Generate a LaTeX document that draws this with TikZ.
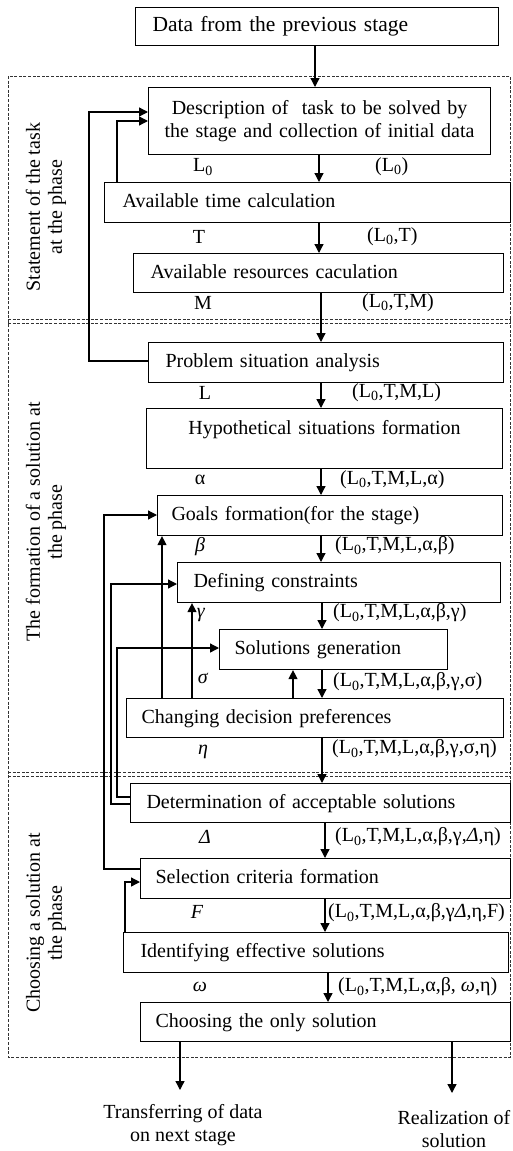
\documentclass[tikz,border=0pt]{standalone}
\usepackage{fontspec}
\setmainfont{Liberation Serif}
\usetikzlibrary{arrows.meta}
\begin{document}
\begin{tikzpicture}[x=1pt,y=-1pt,
  every node/.style={font=\fontsize{20}{23}\selectfont, inner sep=0pt},
  box/.style={draw, line width=1.1pt, anchor=north west, align=left},
  one/.style={text height=14pt, text depth=4pt},
  arr/.style={line width=1.3pt, -{Triangle[length=9pt,width=9pt]}},
  frame/.style={line width=0.7pt, dash pattern=on 3pt off 1.6pt, black!80},
  tup/.style={anchor=west},
  sym/.style={anchor=center},
  side/.style={rotate=90, align=center, font=\fontsize{20}{22}\selectfont},
  outtext/.style={align=center, font=\fontsize{20}{23}\selectfont}]
\useasboundingbox (0,0) rectangle (512,1151);

% dashed frame
\draw[frame] (8,76) rectangle (510.5,1057);
\draw[frame] (8,319) -- (510.5,319);
\draw[frame] (8,323) -- (510.5,323);
\draw[frame] (8,772) -- (510.5,772);
\draw[frame] (8,776) -- (510.5,776);

% side labels
\node[side] (s1) at (46,207) {Statement of the task\\at the phase};
\node[side] (s2) at (46,522) {The formation of a solution at\\the phase};
\node[side] (s3) at (46,923) {Choosing a solution at\\the phase};

% boxes
\node[box, one, inner xsep=17pt, text width=329pt, minimum height=38pt, font=\fontsize{21.5}{24}\selectfont] (b0) at (135,7) {Data from the previous stage};
\node[box, align=center, inner xsep=11pt, text width=320pt, minimum height=67pt] (b1) at (148,87) {Description of~ task to be solved by\\the stage and collection of initial data};
\node[box, one, inner xsep=18pt, text width=370pt, minimum height=40pt] (b2) at (104,182) {Available time calculation};
\node[box, one, inner xsep=17pt, text width=336pt, minimum height=39pt] (b3) at (133,253) {Available resources caculation};
\node[box, one, inner xsep=17pt, text width=321pt, minimum height=40pt] (b4) at (148,342) {Problem situation analysis};
\node[box, align=center, inner xsep=10pt, text width=336pt, text height=25.6pt, text depth=34.4pt] (b5) at (146,408) {Hypothetical situations formation};
\node[box, one, inner xsep=14pt, text width=317pt, minimum height=40pt] (b6) at (157,495) {Goals formation(for the stage)};
\node[box, one, inner xsep=16pt, text width=291pt, minimum height=40pt] (b7) at (177,562) {Defining constraints};
\node[box, one, inner xsep=15pt, text width=198pt, minimum height=40pt] (b8) at (219,629) {Solutions generation};
\node[box, one, inner xsep=15pt, text width=347pt, minimum height=39pt] (b9) at (126,698) {Changing decision preferences};
\node[box, one, inner xsep=16pt, text width=348pt, minimum height=39pt] (b10) at (130,783) {Determination of acceptable solutions};
\node[box, one, inner xsep=15pt, text width=340pt, minimum height=40pt] (b11) at (140,858) {Selection criteria formation};
\node[box, one, inner xsep=17pt, text width=351pt, minimum height=40pt] (b12) at (123,932) {Identifying effective solutions};
\node[box, one, inner xsep=15pt, text width=340pt, minimum height=39pt] (b13) at (140,1002) {Choosing the only solution};

% main flow
\draw[arr] (b0.south -| 315,0) -- (b1.north -| 315,0);
\draw[arr] (b1.south -| 319,0) -- (b2.north -| 319,0);
\draw[arr] (b2.south -| 319,0) -- (b3.north -| 319,0);
\draw[arr] (b3.south -| 321,0) -- (b4.north -| 321,0);
\draw[arr] (b4.south -| 321,0) -- (b5.north -| 321,0);
\draw[arr] (b5.south -| 321,0) -- (b6.north -| 321,0);
\draw[arr] (b6.south -| 321,0) -- (b7.north -| 321,0);
\draw[arr] (b7.south -| 322,0) -- (b8.north -| 322,0);
\draw[arr] (b8.south -| 322,0) -- (b9.north -| 322,0);
\draw[arr] (b9.south -| 322,0) -- (b10.north -| 322,0);
\draw[arr] (b10.south -| 325,0) -- (b11.north -| 325,0);
\draw[arr] (b11.south -| 325,0) -- (b12.north -| 325,0);
\draw[arr] (b12.south -| 328,0) -- (b13.north -| 328,0);

% outputs
\coordinate (o1) at (180,1090);
\coordinate (o2) at (452,1093);
\draw[arr] (b13.south -| o1) -- (o1);
\draw[arr] (b13.south -| o2) -- (o2);
\node[outtext] (t1) at (183,1125) {Transferring of data\\on next stage};
\node[outtext] (t2) at (454,1129) {Realization of\\solution};

% feedback
\draw[arr] (b4.west |- 0,361) -| (89,112) -- (b1.west |- 0,112);
\draw[arr] (b2.north -| 117,0) |- (b1.west |- 0,121);
\draw[arr] (b9.north -| 162,0) -- (b6.south -| 162,0);
\draw[arr] (b9.north -| 192,0) -- (b7.south -| 192,0);
\draw[arr] (b9.north -| 293,0) -- (b8.south -| 293,0);
\draw[arr] (b11.west |- 0,869) -| (104,515) -- (b6.west |- 0,515);
\draw[arr] (b10.west |- 0,804) -| (111,584) -- (b7.west |- 0,584);
\draw[arr] (b10.west |- 0,797) -| (117,648) -- (b8.west |- 0,648);
\draw[arr] (b12.north -| 125,0) |- (b11.west |- 0,882);

% symbol labels
\node[sym] (l1) at (203,167) {L\textsubscript{0}};
\node[sym] (l2) at (199,237) {T};
\node[sym] (l3) at (203,303) {M};
\node[sym] (l4) at (205,393) {L};
\node[sym] (l5) at (200,480) {α};
\node[sym] (l6) at (200,547) {\textit{β}};
\node[sym] (l7) at (201,615) {\textit{γ}};
\node[sym] (l8) at (203,678) {\textit{σ}};
\node[sym] (l9) at (203,752) {\textit{η}};
\node[sym] (l10) at (205,837) {\textit{Δ}};
\node[sym] (l11) at (197,912) {\textit{F}};
\node[sym] (l12) at (200,987) {\textit{ω}};

% tuple labels
\node[tup] (p1) at (375,167) {(L\textsubscript{0})};
\node[tup] (p2) at (367,237) {(L\textsubscript{0},T)};
\node[tup] (p3) at (362,303) {(L\textsubscript{0},T,M)};
\node[tup] (p4) at (352,393) {(L\textsubscript{0},T,M,L)};
\node[tup] (p5) at (340,480) {(L\textsubscript{0},T,M,L,α)};
\node[tup] (p6) at (335,546) {(L\textsubscript{0},T,M,L,α,β)};
\node[tup] (p7) at (333,613) {(L\textsubscript{0},T,M,L,α,β,γ)};
\node[tup] (p8) at (333,682) {(L\textsubscript{0},T,M,L,α,β,γ,σ)};
\node[tup] (p9) at (332,749) {(L\textsubscript{0},T,M,L,α,β,γ,σ,η)};
\node[tup] (p10) at (335,837) {(L\textsubscript{0},T,M,L,α,β,γ,\textit{Δ},η)};
\node[tup] (p11) at (328,913) {(L\textsubscript{0},T,M,L,α,β,γ\textit{Δ},η,F)};
\node[tup] (p12) at (338,987) {(L\textsubscript{0},T,M,L,α,β, \textit{ω},η)};
\end{tikzpicture}
\end{document}
